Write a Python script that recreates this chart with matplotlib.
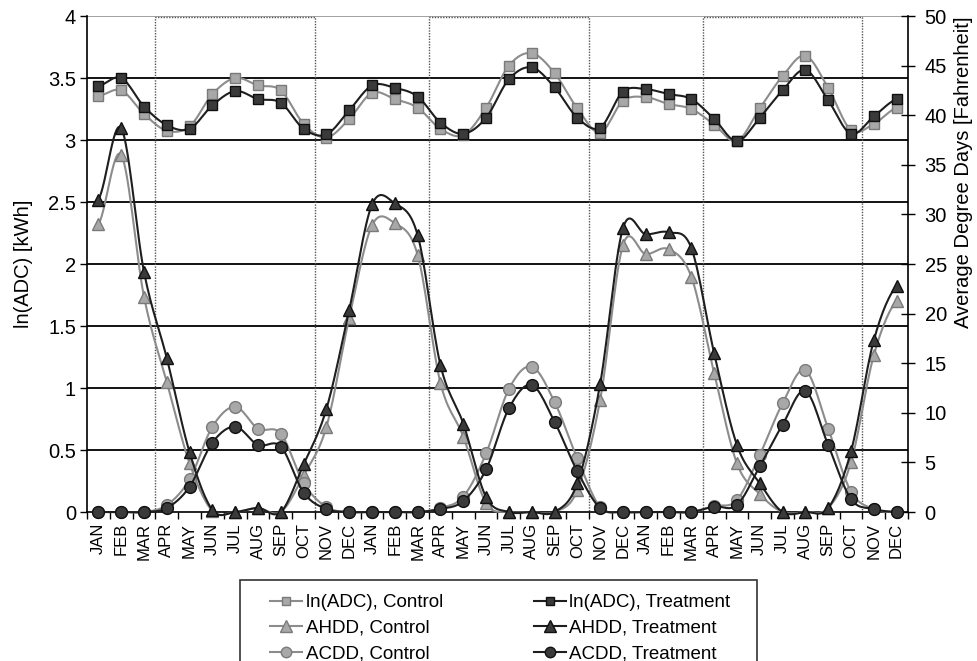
import numpy as np
import matplotlib
matplotlib.use("Agg")
import matplotlib.pyplot as plt
from matplotlib.lines import Line2D
from matplotlib.patches import Rectangle

plt.rcParams['font.family'] = ['Liberation Sans', 'DejaVu Sans']

# ---------------- data ----------------
MONTHS = ['JAN', 'FEB', 'MAR', 'APR', 'MAY', 'JUN', 'JUL', 'AUG', 'SEP', 'OCT', 'NOV', 'DEC']
month_labels = MONTHS * 3

ln_adc_control = [3.355, 3.40, 3.21, 3.075, 3.11, 3.37, 3.50, 3.44, 3.40, 3.13, 3.02, 3.17,
                  3.38, 3.33, 3.26, 3.09, 3.04, 3.26, 3.60, 3.70, 3.54, 3.255, 3.06, 3.315,
                  3.345, 3.29, 3.25, 3.125, 2.99, 3.255, 3.515, 3.68, 3.42, 3.08, 3.13, 3.26]
ln_adc_treatment = [3.435, 3.50, 3.27, 3.12, 3.09, 3.28, 3.395, 3.33, 3.30, 3.09, 3.045, 3.24,
                    3.44, 3.42, 3.35, 3.14, 3.05, 3.18, 3.49, 3.585, 3.425, 3.18, 3.10, 3.39,
                    3.41, 3.37, 3.33, 3.17, 2.99, 3.18, 3.40, 3.565, 3.32, 3.05, 3.19, 3.33]

ahdd_control = [29.0, 36.0, 21.7, 13.1, 4.9, 0.1, 0.0, 0.4, 0.0, 3.7, 8.6, 19.6,
                28.9, 29.1, 25.9, 13.0, 7.6, 0.9, 0.0, 0.0, 0.0, 2.2, 11.3, 26.9,
                26.0, 26.5, 23.7, 14.0, 4.9, 1.8, 0.0, 0.0, 0.4, 5.0, 15.8, 21.3]
ahdd_treatment = [31.5, 38.7, 24.2, 15.5, 6.0, 0.2, 0.0, 0.4, 0.0, 4.8, 10.4, 20.4,
                  31.0, 31.1, 27.9, 14.8, 8.9, 1.5, 0.0, 0.0, 0.0, 2.9, 12.9, 28.6,
                  28.0, 28.2, 26.6, 16.0, 6.75, 2.9, 0.0, 0.0, 0.4, 6.1, 17.3, 22.8]

acdd_control = [0.0, 0.0, 0.0, 0.7, 3.3, 8.6, 10.6, 8.4, 7.9, 2.9, 0.5, 0.0,
                0.0, 0.0, 0.0, 0.4, 1.55, 5.9, 12.4, 14.65, 11.1, 5.4, 0.5, 0.0,
                0.0, 0.0, 0.0, 0.6, 1.2, 5.75, 10.95, 14.3, 8.4, 2.05, 0.3, 0.0]
acdd_treatment = [0.0, 0.0, 0.0, 0.4, 2.55, 7.0, 8.6, 6.75, 6.6, 1.95, 0.3, 0.0,
                  0.0, 0.0, 0.0, 0.3, 1.1, 4.3, 10.45, 12.8, 9.1, 4.1, 0.4, 0.0,
                  0.0, 0.0, 0.0, 0.55, 0.7, 4.6, 8.8, 12.2, 6.75, 1.3, 0.3, 0.0]

# summer (APR-OCT) periods, as index ranges of the months
summer_start = [3, 15, 27]
summer_end = [9, 21, 33]

# ---------------- helpers ----------------
def smooth(y, n=16):
    """Excel-like smoothed line: cubic Bezier through points."""
    y = np.asarray(y, float)
    p = np.concatenate([[y[0]], y, [y[-1]]])
    t = np.linspace(0, 1, n)[:-1]
    xs, ys = [], []
    for i in range(len(y) - 1):
        p0, p1, p2, p3 = p[i], p[i + 1], p[i + 2], p[i + 3]
        c1 = p1 + (p2 - p0) / 6.0
        c2 = p2 - (p3 - p1) / 6.0
        b = (1 - t) ** 3 * p1 + 3 * (1 - t) ** 2 * t * c1 + 3 * (1 - t) * t ** 2 * c2 + t ** 3 * p2
        xs.append(i + t)
        ys.append(b)
    xs.append([len(y) - 1])
    ys.append([y[-1]])
    return np.concatenate(xs), np.concatenate(ys)

CTRL = dict(line='#8c8c8c', face='#a8a8a8', edge='#7a7a7a')
TRT = dict(line='#1e1e1e', face='#3a3a3a', edge='#101010')

# ---------------- figure ----------------
W, H = 978, 661
fig = plt.figure(figsize=(W / 100, H / 100), dpi=100)
ax = fig.add_axes([87 / W, 1 - 512 / H, 821 / W, 496 / H])
ax2 = ax.twinx()

x = np.arange(len(month_labels))

ax.set_xlim(-0.5, len(month_labels) - 0.5)
ax.set_ylim(0, 4)
ax2.set_ylim(0, 50)

# gridlines
for g in np.arange(0.5, 3.51, 0.5):
    ax.axhline(g, color='black', lw=1.3, zorder=1)
ax.axhline(4, color='#9a9a9a', lw=1.3, zorder=1)

# summer boxes (dotted)
for s, e in zip(summer_start, summer_end):
    ax.add_patch(Rectangle((s - 0.5, 0), (e - s) + 1, 3.99, fill=False, ec='#555555',
                           lw=1.0, ls=(0, (1, 1)), zorder=1.5))

ax.set_xticks(x)
ax.set_xticklabels(month_labels, rotation=90, fontsize=12)
ax.set_xticks(np.arange(-0.5, len(month_labels), 1), minor=True)
ax.tick_params(axis='x', which='major', length=0, pad=8)
ax.tick_params(axis='x', which='minor', length=5, direction='out', width=1)

ax.set_yticks(np.arange(0, 4.01, 0.5))
ax.set_yticklabels(['0', '0.5', '1', '1.5', '2', '2.5', '3', '3.5', '4'])
ax.tick_params(axis='y', length=5, width=1, direction='out', labelsize=14.5, pad=3)

ax2.set_yticks(np.arange(0, 50.1, 5))
ax2.tick_params(axis='y', length=10, width=1, direction='inout', labelsize=14.5, pad=7)

for a in (ax, ax2):
    a.spines['top'].set_visible(False)
    for s in ('left', 'right', 'bottom'):
        a.spines[s].set_linewidth(1.2)
        a.spines[s].set_color('black')
ax.spines['right'].set_visible(False)
ax2.spines['left'].set_visible(False)
ax2.spines['bottom'].set_visible(False)

ax.set_ylabel('ln(ADC) [kWh]', fontsize=14.5)
ax.yaxis.set_label_coords(-0.066, 0.5)
ax2.set_ylabel('Average Degree Days [Fahrenheit]', fontsize=14.5)
ax2.yaxis.set_label_coords(1.056, 0.685)

# series
def draw(a, y, st, marker, ms, z):
    sx, sy = smooth(y)
    a.plot(sx, sy, color=st['line'], lw=1.5, zorder=z, clip_on=False)
    a.plot(x, y, ls='none', marker=marker, ms=ms, mfc=st['face'], mec=st['edge'],
           mew=1.0, zorder=z + 0.1, clip_on=False)

draw(ax, ln_adc_control, CTRL, 's', 7, 3)
draw(ax, ln_adc_treatment, TRT, 's', 7, 3.2)
draw(ax2, ahdd_control, CTRL, '^', 9, 3)
draw(ax2, acdd_control, CTRL, 'o', 8.5, 3.1)
draw(ax2, ahdd_treatment, TRT, '^', 9, 3.2)
draw(ax2, acdd_treatment, TRT, 'o', 8.5, 3.3)

# legend
def h(st, marker, ms):
    return Line2D([], [], color=st['line'], lw=1.5, marker=marker, ms=ms,
                  mfc=st['face'], mec=st['edge'], mew=1.0)

handles = [h(CTRL, 's', 6), h(CTRL, '^', 8), h(CTRL, 'o', 7.5),
           h(TRT, 's', 6), h(TRT, '^', 8), h(TRT, 'o', 7.5)]
labels = ['ln(ADC), Control', 'AHDD, Control', 'ACDD, Control',
          'ln(ADC), Treatment', 'AHDD, Treatment', 'ACDD, Treatment']
fig.legend(handles, labels, ncol=2, loc='upper left',
           bbox_to_anchor=(270 / W, 1 - 594 / H), frameon=False, fontsize=13.5,
           borderpad=0, borderaxespad=0, handlelength=1.7, handletextpad=0.2,
           columnspacing=4.85, labelspacing=0.45)
fig.add_artist(Rectangle((240 / W, -0.05), (757 - 240) / W, (1 - 580 / H) + 0.05,
                         transform=fig.transFigure, fill=False, ec='#333333', lw=1.2))

fig.savefig('out.png', dpi=100)
